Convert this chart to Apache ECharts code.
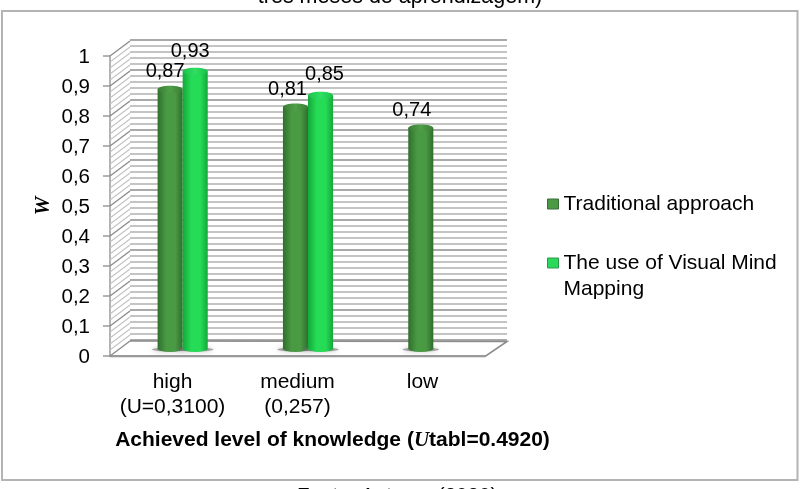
<!DOCTYPE html>
<html>
<head>
<meta charset="utf-8">
<style>
html, body { margin: 0; padding: 0; background: #fff; }
#chart { width: 800px; height: 489px; }
</style>
</head>
<body>
<div id="chart"></div>
<script src="https://cdn.jsdelivr.net/npm/echarts@6/dist/echarts.min.js"></script>
<script>
// dados
const categories = ['high\n(U=0,3100)', 'medium\n(0,257)', 'low'];
const seriesNames = ['Traditional approach', 'The use of Visual Mind\nMapping'];
const traditional = [0.87, 0.81, 0.74];
const visualMind = [0.93, 0.85, null];
const yTicks = ['0', '0,1', '0,2', '0,3', '0,4', '0,5', '0,6', '0,7', '0,8', '0,9', '1'];

// deslocamento manual dos rotulos (como no original)
const labelNudge = [[-5, -1], [-8, -1], [-9, 0]];
const labelNudgeSecond = [[-5, -3], [4, -4], [0, 0]];

const FONT = '"Liberation Sans", Arial, sans-serif';

const cylinder = (edge, mid, topEdge, topMid, side, nudges) => (params, api) => {
	const value = api.value(1);
	if (value === null || value === undefined || isNaN(value)) return;
	const top = api.coord([api.value(0), value]);
	const base = api.coord([api.value(0), 0]);
	const w = api.size([1, 0])[0] * 0.2;
	const cx = top[0] + (side * w) / 2;
	const ry = 3.5;
	const body = new echarts.graphic.LinearGradient(0, 0, 1, 0, [
		{ offset: 0, color: edge },
		{ offset: 0.35, color: mid },
		{ offset: 0.7, color: mid },
		{ offset: 1, color: edge },
	]);
	const cap = new echarts.graphic.LinearGradient(0, 0, 1, 0, [
		{ offset: 0, color: topEdge },
		{ offset: 0.5, color: topMid },
		{ offset: 1, color: topEdge },
	]);
	const nudge = nudges[params.dataIndex];
	return {
		type: 'group',
		children: [
			{
				type: 'ellipse',
				shape: { cx: cx, cy: base[1] + 1, rx: w * 0.72, ry: 2 },
				style: { fill: 'rgba(110,110,110,0.6)', shadowBlur: 5, shadowColor: 'rgba(110,110,110,0.7)' },
				z2: 1,
			},
			{
				type: 'path',
				shape: {
					pathData:
						'M' + (cx - w / 2) + ' ' + top[1] +
						'L' + (cx - w / 2) + ' ' + base[1] +
						'A' + w / 2 + ' ' + ry + ' 0 0 0 ' + (cx + w / 2) + ' ' + base[1] +
						'L' + (cx + w / 2) + ' ' + top[1] + 'Z',
				},
				style: { fill: body },
				z2: 2,
			},
			{
				type: 'ellipse',
				shape: { cx: cx, cy: top[1], rx: w / 2, ry: ry },
				style: { fill: cap },
				z2: 3,
			},
			{
				type: 'text',
				z2: 10,
				style: {
					text: String(value).replace('.', ','),
					x: cx + nudge[0],
					y: top[1] - 7 + nudge[1],
					align: 'center',
					verticalAlign: 'bottom',
					fill: '#000',
					font: '20px ' + FONT,
				},
			},
		],
	};
};

// parede lateral e chao (linhas do falso 3D)
const sideWall = (params, api) => {
	const y = api.coord([0, api.value(0)])[1];
	const x = params.coordSys.x;
	const major = Math.round(api.value(0) * 100) % 10 === 0;
	return {
		type: 'line',
		shape: { x1: x, y1: y, x2: x + 20, y2: y - 15 },
		style: { stroke: major ? '#8c8c8c' : '#c4c4c4', lineWidth: major ? 1.4 : 1.2 },
	};
};
const wallSteps = [];
for (let i = 0; i <= 50; i++) wallSteps.push(i / 50);

const option = {
	animation: false,
	textStyle: { fontFamily: FONT },
	title: [
		{
			text: 'tres meses de aprendizagem)',
			left: 'center',
			top: -14,
			padding: 0,
			textStyle: { fontSize: 21.5, fontWeight: 'normal', color: '#000', fontFamily: FONT },
		},
		{
			text: 'Fonte: Autores (2020)',
			left: 297,
			top: 486,
			padding: 0,
			textStyle: { fontSize: 20.6, fontWeight: 'normal', color: '#000', fontFamily: FONT },
		},
	],
	legend: {
		orient: 'vertical',
		left: 547,
		top: 191,
		padding: 0,
		itemWidth: 11,
		itemHeight: 10,
		itemGap: 7,
		icon: 'rect',
		selectedMode: false,
		// linha em branco antes do nome longo: o icone fica alinhado com a primeira linha
		formatter: (name) => (name.indexOf('\n') > -1 ? ' \n' + name : name),
		textStyle: { fontSize: 21, color: '#000', lineHeight: 26, fontFamily: FONT },
		data: [
			{
				name: seriesNames[0],
				itemStyle: { color: '#4a9a44', borderColor: '#3a6e38', borderWidth: 1 },
			},
			{
				name: seriesNames[1],
				itemStyle: { color: '#2bd85a', borderColor: '#2a9a4a', borderWidth: 1 },
			},
		],
	},
	graphic: [
		{
			type: 'rect',
			z: -10,
			silent: true,
			shape: { x: 2, y: 11, width: 795.5, height: 469 },
			style: { fill: 'none', stroke: '#b4b4b4', lineWidth: 2 },
		},
		{
			// chao
			type: 'polyline',
			z: 0,
			silent: true,
			shape: { points: [[110, 356.5], [485, 356.5], [507, 341.5], [130, 341]] },
			style: { fill: 'none', stroke: '#8c8c8c', lineWidth: 1.6 },
		},
	],
	grid: [
		{ left: 110, top: 56, width: 375, height: 300 }, // frente
		{ left: 130, top: 40, width: 377, height: 300 }, // fundo
		{ left: 120, top: 50.5, width: 376, height: 298 }, // colunas
	],
	xAxis: [
		{
			gridIndex: 0,
			type: 'category',
			data: categories,
			name: '{b|Achieved level of knowledge (}{u|U}{b|tabl=0.4920)}',
			nameLocation: 'middle',
			nameGap: 74,
			nameTextStyle: {
				padding: [0, 0, 0, 70],
				rich: {
					b: { fontSize: 21, fontWeight: 'bold', color: '#000', fontFamily: FONT },
					u: { fontSize: 21, fontWeight: 'bold', fontStyle: 'italic', color: '#000', fontFamily: '"Liberation Serif", serif' },
				},
			},
			axisLine: { lineStyle: { color: '#9a9a9a', width: 2 } },
			axisTick: { show: false },
			axisLabel: { color: '#000', fontSize: 21, lineHeight: 25, margin: 14, interval: 0 },
		},
		{ gridIndex: 1, type: 'value', min: 0, max: 1, show: false },
		{ gridIndex: 2, type: 'category', data: categories, show: false },
	],
	yAxis: [
		{
			gridIndex: 0,
			type: 'value',
			min: 0,
			max: 1,
			interval: 0.1,
			name: 'W',
			nameLocation: 'middle',
			nameGap: 56,
			nameTextStyle: { fontFamily: '"Liberation Serif", serif', fontWeight: 'bold', fontStyle: 'italic', fontSize: 21, color: '#000' },
			axisLine: { show: true, lineStyle: { color: '#9a9a9a', width: 1.5 } },
			axisTick: { show: true, length: 7, lineStyle: { color: '#9a9a9a', width: 1.5 } },
			splitLine: { show: false },
			axisLabel: {
				margin: 20,
				formatter: (v) => '{t|' + yTicks[Math.round(v * 10)] + '}',
				rich: {
					t: { color: '#000', fontSize: 20.5, fontFamily: FONT, padding: [3, 0, 0, 0] },
				},
			},
		},
		{
			gridIndex: 1,
			type: 'value',
			min: 0,
			max: 1,
			interval: 0.1,
			axisLine: { show: false },
			axisTick: { show: false },
			axisLabel: { show: false },
			splitLine: { show: true, lineStyle: { color: '#8c8c8c', width: 1.6 } },
			minorTick: { show: false, splitNumber: 5 },
			minorSplitLine: { show: true, lineStyle: { color: '#c4c4c4', width: 2 } },
		},
		{ gridIndex: 2, type: 'value', min: 0, max: 1, show: false },
	],
	series: [
		{
			type: 'custom',
			xAxisIndex: 0,
			yAxisIndex: 0,
			silent: true,
			z: 1,
			coordinateSystem: 'cartesian2d',
			renderItem: sideWall,
			data: wallSteps.map((v) => [v]),
			encode: { y: 0 },
		},
		{
			name: seriesNames[0],
			type: 'custom',
			xAxisIndex: 2,
			yAxisIndex: 2,
			z: 3,
			renderItem: cylinder('#2f6f2c', '#4a9a44', '#3a7d36', '#4f9f48', -1, labelNudge),
			data: traditional.map((v, i) => [i, v]),
			encode: { x: 0, y: 1 },
		},
		{
			name: seriesNames[1],
			type: 'custom',
			xAxisIndex: 2,
			yAxisIndex: 2,
			z: 4,
			renderItem: cylinder('#14a83a', '#26dc56', '#1cc04a', '#2ee062', 1, labelNudgeSecond),
			data: visualMind.map((v, i) => [i, v]),
			encode: { x: 0, y: 1 },
		},
	],
};

const myChart = echarts.init(document.getElementById('chart'), null, { renderer: 'canvas' });
myChart.setOption(option);
</script>
</body>
</html>
